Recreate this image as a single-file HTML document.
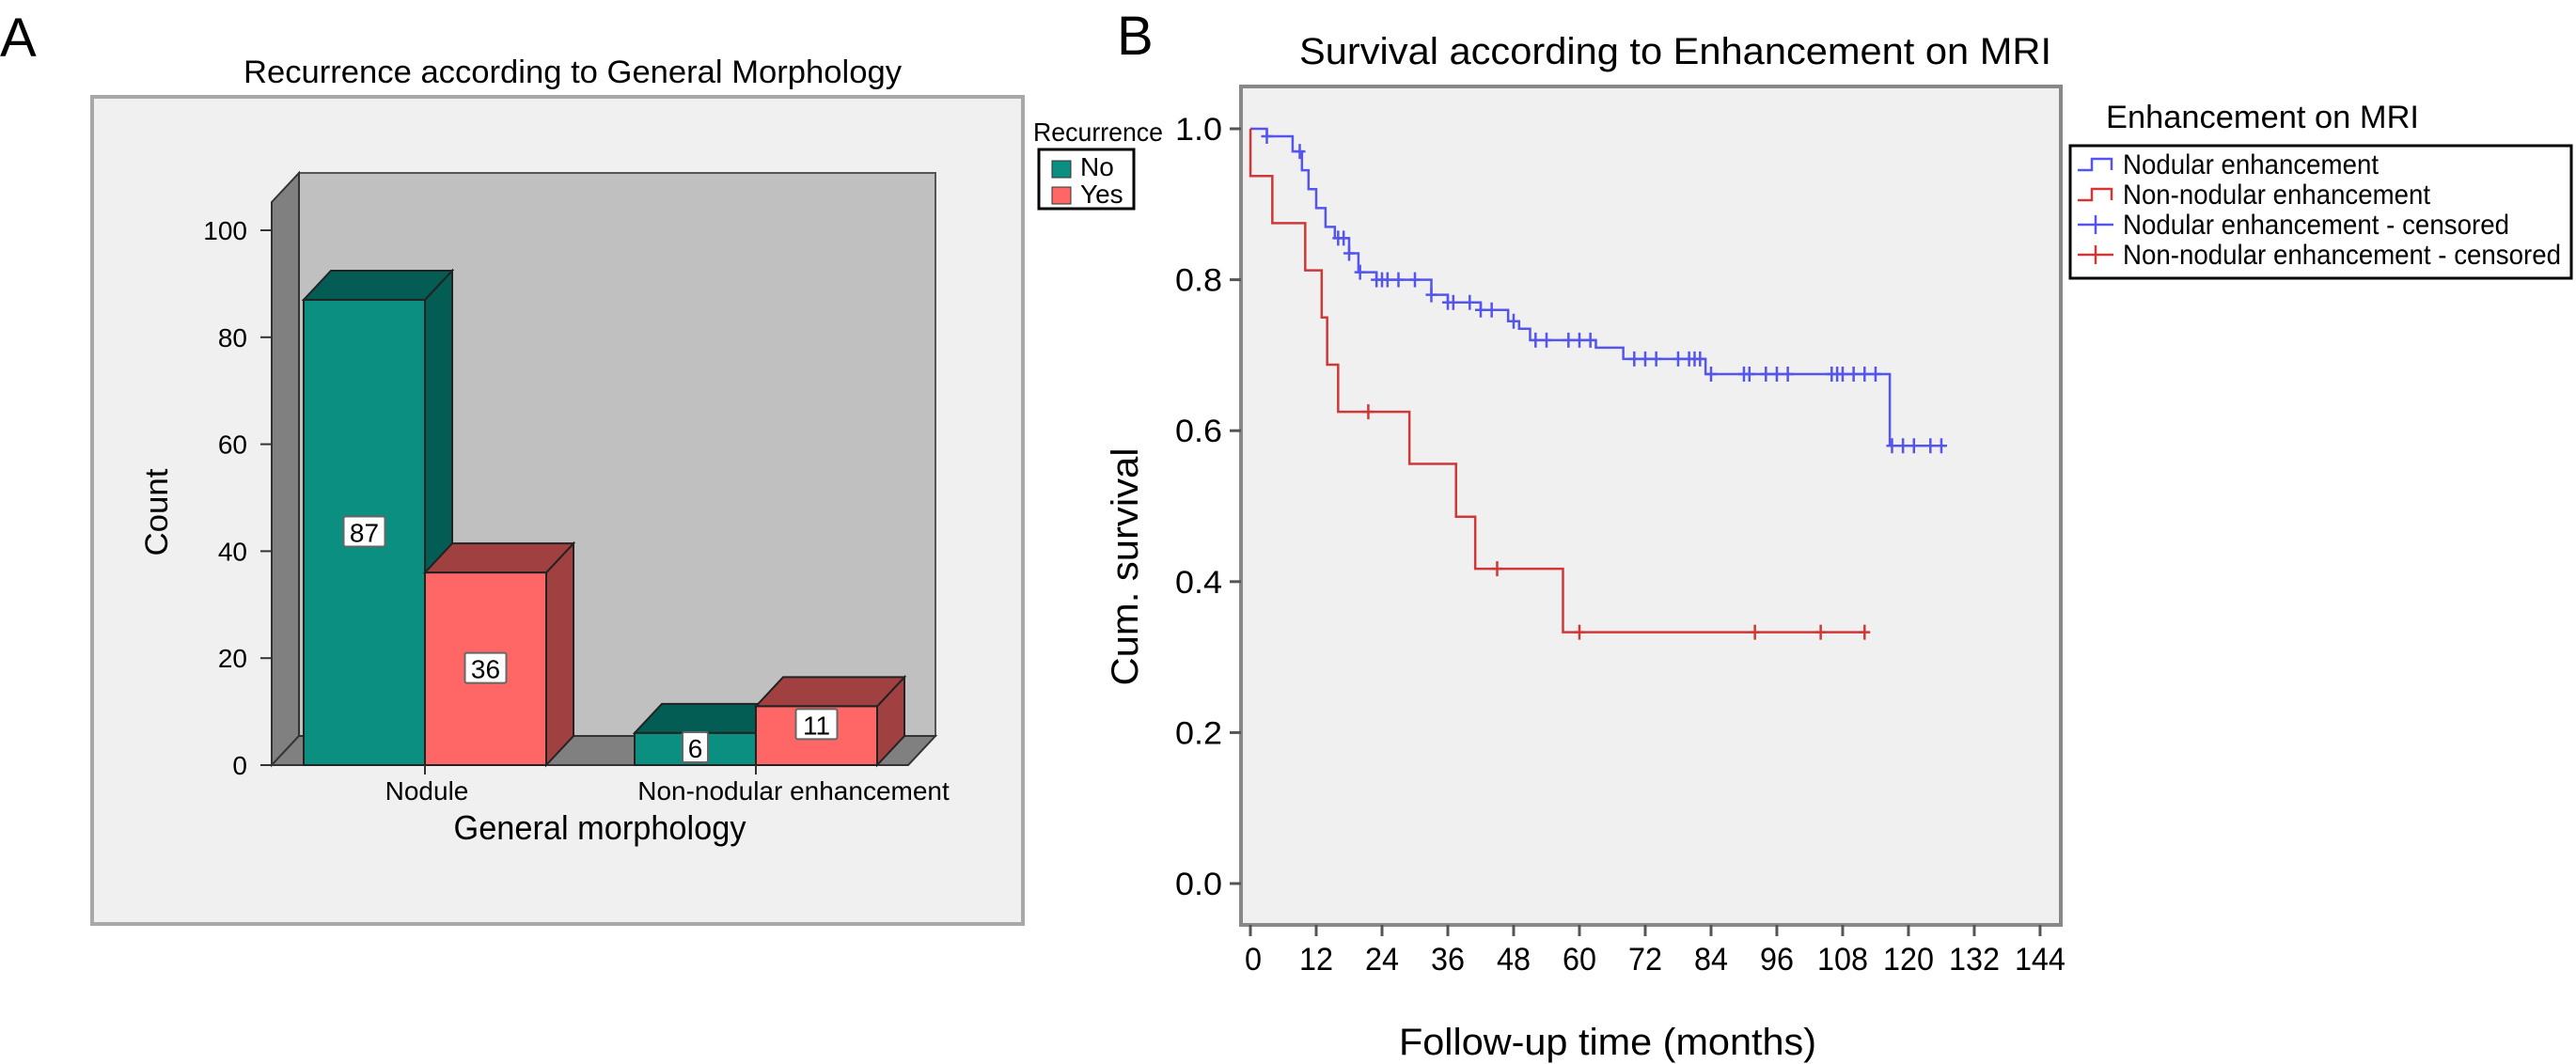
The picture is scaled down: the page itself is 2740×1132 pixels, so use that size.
<!DOCTYPE html>
<html><head><meta charset="utf-8"><style>
html,body{margin:0;padding:0;background:#fff;}
svg{display:block;font-family:"Liberation Sans",sans-serif;}
</style></head><body>
<svg id="fig" width="2740" height="1132" viewBox="0 0 2740 1132" xmlns="http://www.w3.org/2000/svg">
<text x="0" y="60" font-size="58">A</text>
<text x="1188" y="58" font-size="58">B</text>

<g id="panelA">
<text x="609" y="88" font-size="34" text-anchor="middle" textLength="700" lengthAdjust="spacingAndGlyphs">Recurrence according to General Morphology</text>
<rect x="98" y="103" width="990" height="880" fill="#f0f0f0" stroke="#a8a8a8" stroke-width="4"/>
<rect x="318" y="184" width="677" height="599" fill="#c0c0c0" stroke="#555" stroke-width="2"/>
<polygon points="289,215 318,184 318,783 289,814" fill="#808080" stroke="#333" stroke-width="2"/>
<polygon points="289,814 318,783 995,783 966,814" fill="#808080" stroke="#333" stroke-width="2"/>
<line x1="289" y1="215" x2="289" y2="814" stroke="#333" stroke-width="2"/>
<line x1="289" y1="814" x2="966" y2="814" stroke="#333" stroke-width="2"/>
<g id="aTicks"></g>
<g id="aBars"></g>
<text x="178" y="545" font-size="34" text-anchor="middle" transform="rotate(-90 178 545)" textLength="93" lengthAdjust="spacingAndGlyphs">Count</text>
<text x="638" y="893" font-size="36" text-anchor="middle" textLength="311" lengthAdjust="spacingAndGlyphs">General morphology</text>
<text x="1099" y="150" font-size="28" textLength="138" lengthAdjust="spacingAndGlyphs">Recurrence</text>
<rect x="1105" y="159" width="101" height="63" fill="#fff" stroke="#000" stroke-width="3"/>
<rect x="1119" y="171" width="20" height="18" fill="#0b8f80" stroke="#333"/>
<text x="1149" y="187" font-size="28">No</text>
<rect x="1119" y="199" width="20" height="18" fill="#ff6666" stroke="#333"/>
<text x="1149" y="216" font-size="28">Yes</text>
</g>

<g id="panelB">
<text x="1782" y="68" font-size="40" text-anchor="middle" textLength="800" lengthAdjust="spacingAndGlyphs">Survival according to Enhancement on MRI</text>
<rect x="1320" y="92" width="872" height="892" fill="#f0f0f0" stroke="#888" stroke-width="4"/>
<g id="bTicks"></g>
<g id="bLines"></g>
<text x="1210" y="603" font-size="40" text-anchor="middle" transform="rotate(-90 1210 603)" textLength="253" lengthAdjust="spacingAndGlyphs">Cum. survival</text>
<text x="1710" y="1122" font-size="40" text-anchor="middle" textLength="444" lengthAdjust="spacingAndGlyphs">Follow-up time (months)</text>
<text x="2240" y="136" font-size="34" textLength="333" lengthAdjust="spacingAndGlyphs">Enhancement on MRI</text>
<rect x="2202" y="155" width="533" height="141" fill="#fff" stroke="#000" stroke-width="3"/>
<g id="bLegend"></g>
</g>
</svg>
<script>
const NS="http://www.w3.org/2000/svg";
function mk(tag,attrs,parent,text){const e=document.createElementNS(NS,tag);for(const k in attrs)e.setAttribute(k,attrs[k]);if(text!==undefined)e.textContent=text;parent.appendChild(e);return e;}

// ---- Bar chart data ----
const barCategories=["Nodule","Non-nodular enhancement"];
const noValues=[87,6];
const yesValues=[36,11];
const countTicks=[0,20,40,60,80,100];

const yA=v=>814-v*5.69;
const catCenter=i=>452+i*352;
const BW=129, DX=29, DY=-31;
const aTicks=document.getElementById('aTicks');
countTicks.forEach(t=>{
  const l=mk('line',{x1:277,x2:289,y1:yA(t),y2:yA(t),stroke:'#333','stroke-width':2},aTicks);
  
  
  const tx=mk('text',{x:263,y:yA(t)+10,'font-size':28,'text-anchor':'end'},aTicks,String(t));
  
  
});
const aBars=document.getElementById('aBars');
function bar3d(x,v,front,dark,name){
  const top=yA(v),bot=yA(0),g=mk('g',{},aBars);
  
  
  mk('polygon',{points:`${x+BW},${bot} ${x+BW+DX},${bot+DY} ${x+BW+DX},${top+DY} ${x+BW},${top}`,fill:dark,stroke:'#222','stroke-width':2},g);
  mk('polygon',{points:`${x},${top} ${x+DX},${top+DY} ${x+BW+DX},${top+DY} ${x+BW},${top}`,fill:dark,stroke:'#222','stroke-width':2},g);
  mk('rect',{x:x,y:top,width:BW,height:bot-top,fill:front,stroke:'#222','stroke-width':2},g);
}
function valLabel(cx,cy,v){
  const s=String(v),w=s.length*17+10;
  const r=mk('rect',{x:cx-w/2,y:cy-17,width:w,height:32,fill:'#fff',stroke:'#666','stroke-width':2,rx:2},aBars);
  
  
  const t=mk('text',{x:cx,y:cy+10,'font-size':28,'text-anchor':'middle'},aBars,s);
  
  
}
barCategories.forEach((c,i)=>{
  const cx=catCenter(i);
  bar3d(cx-BW,noValues[i],'#0b8f80','#045d55','bar-'+(i?'nonnodular':'nodule')+'-no');
  bar3d(cx,yesValues[i],'#ff6666','#a04040','bar-'+(i?'nonnodular':'nodule')+'-yes');
  const tk=mk('line',{x1:cx,x2:cx,y1:814,y2:824,stroke:'#333','stroke-width':2},aBars);
  
  
  const lb=mk('text',{x:cx+(i?40:2),y:851,'font-size':28,'text-anchor':'middle'},aBars,c);
  
  
});
barCategories.forEach((c,i)=>{
  const cx=catCenter(i);
  const vn=noValues[i],vy=yesValues[i];
  valLabel(cx-BW/2,vn>20?yA(vn/2):yA(0)-18,vn);
  valLabel(cx+BW/2,vy>20?yA(vy/2):yA(vy)+20,vy);
});

// ---- Survival data ----
const nodTimes=[0,3,7.7,9.4,10.6,12,13.7,15.4,18,19.7,23,33,36,42,47,49,51,63,68,83,116.6];
const nodSurv=[1.0,0.99,0.97,0.945,0.92,0.895,0.87,0.855,0.835,0.81,0.80,0.78,0.77,0.76,0.745,0.735,0.72,0.71,0.695,0.675,0.58];
const nodEnd=127;
const nodCensor=[3,9,16,17,18,20,23,24,25,27,30,33,36,37,40,42,44,48,52,54,58,60,62,70,72,74,78,80,81,82,84,90,91,94,96,98,106,107,108,110,112,114,117,119,121,124,126];
const nonTimes=[0,0.01,4,10,13,14,16,29,37.5,41,57];
const nonSurv=[1.0,0.9375,0.875,0.8125,0.75,0.6875,0.625,0.556,0.486,0.417,0.333];
const nonEnd=112;
const nonCensor=[21.5,45,60,92,104,112];
const monthTicks=[0,12,24,36,48,60,72,84,96,108,120,132,144];
const survTicks=["0.0","0.2","0.4","0.6","0.8","1.0"];

const xB=m=>1330+m*5.833;
const yB=s=>940-s*803;
const bT=document.getElementById('bTicks');
survTicks.forEach(t=>{
  const v=parseFloat(t);
  const l=mk('line',{x1:1308,x2:1320,y1:yB(v),y2:yB(v),stroke:'#555','stroke-width':3},bT);
  
  
  const tx=mk('text',{x:1300,y:yB(v)+12,'font-size':34,'text-anchor':'end',textLength:50,lengthAdjust:'spacingAndGlyphs'},bT,t);
  
  
});
monthTicks.forEach(m=>{
  const l=mk('line',{x1:xB(m),x2:xB(m),y1:984,y2:996,stroke:'#555','stroke-width':3},bT);
  
  
  const s=String(m);
  const tx=mk('text',{x:xB(m)+(m===0?3:0),y:1032,'font-size':34,'text-anchor':'middle',textLength:s.length*18,lengthAdjust:'spacingAndGlyphs'},bT,s);
  
  
});
function stepPath(times,surv,end){
  let d=`M${xB(times[0])},${yB(surv[0])}`;
  for(let i=1;i<times.length;i++){d+=` H${xB(times[i])} V${yB(surv[i])}`;}
  d+=` H${xB(end)}`;return d;
}
function survAt(times,surv,m){let s=surv[0];for(let i=0;i<times.length;i++){if(times[i]<=m)s=surv[i];}return s;}
const bL=document.getElementById('bLines');
const p1=mk('path',{d:stepPath(nodTimes,nodSurv,nodEnd),fill:'none',stroke:'#5555ee','stroke-width':2.5},bL);


const p2=mk('path',{d:stepPath(nonTimes,nonSurv,nonEnd),fill:'none',stroke:'#d03838','stroke-width':2.5},bL);


function censor(m,s,col,name){
  const x=xB(m),y=yB(s);
  const c=mk('path',{d:`M${x-6},${y} H${x+6} M${x},${y-8} V${y+8}`,stroke:col,'stroke-width':2.5},bL);
  
  
}
nodCensor.forEach(m=>censor(m,survAt(nodTimes,nodSurv,m),'#5555ee','nodular-censor-mark'));
nonCensor.forEach(m=>censor(m,survAt(nonTimes,nonSurv,m),'#d03838','nonnodular-censor-mark'));

const legendLabels=["Nodular enhancement","Non-nodular enhancement","Nodular enhancement - censored","Non-nodular enhancement - censored"];
const legendWidths=[272,327,411,466];
const bLg=document.getElementById('bLegend');
legendLabels.forEach((lab,i)=>{
  const y=175+i*32, col=i%2?'#d03838':'#5555ee';
  const sym=(i<2)?mk('path',{d:`M2210,${y+6} H2225 V${y-6} H2246 V${y+6}`,fill:'none',stroke:col,'stroke-width':2.5},bLg)
                 :mk('path',{d:`M2210,${y} H2248 M2229,${y-10} V${y+10}`,stroke:col,'stroke-width':2.5},bLg);
  
  
  const t=mk('text',{x:2258,y:y+10,'font-size':30,textLength:legendWidths[i],lengthAdjust:'spacingAndGlyphs'},bLg,lab);
  
  
});
</script>
</body></html>
